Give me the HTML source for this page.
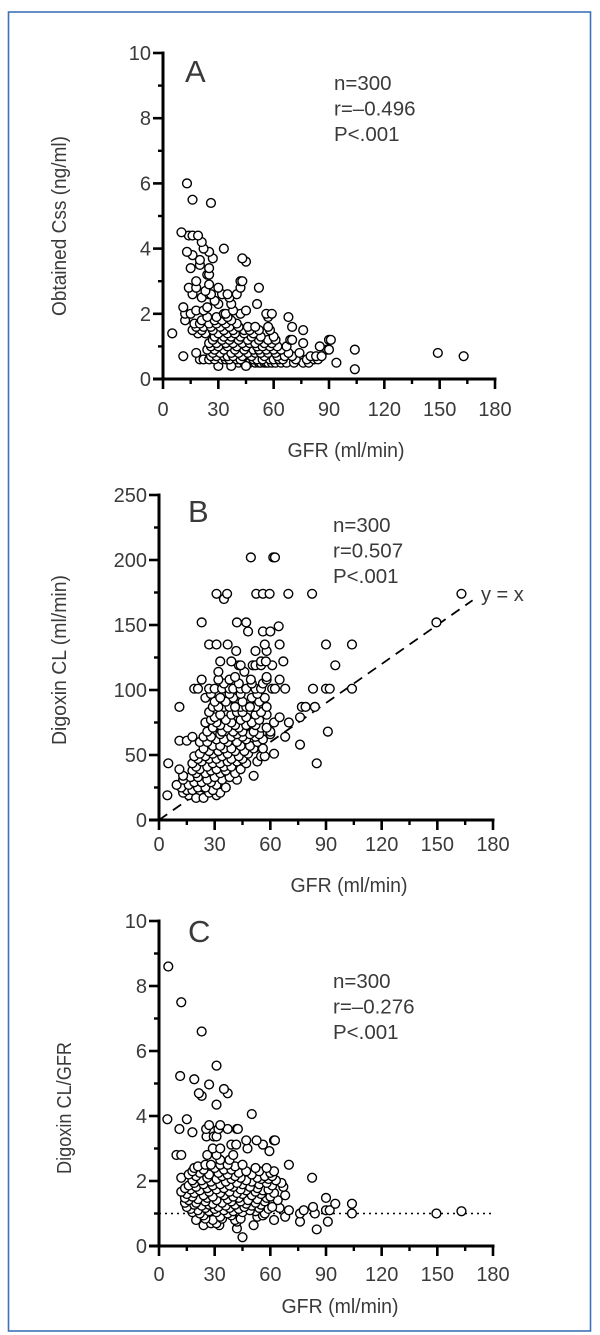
<!DOCTYPE html>
<html lang="en">
<head>
<meta charset="utf-8">
<title>Digoxin scatter plots</title>
<style>
html,body{margin:0;padding:0;background:#fff;width:600px;height:1335px;overflow:hidden}
svg{display:block}
text{font-family:"Liberation Sans",sans-serif;fill:#3a3a3a}
</style>
</head>
<body>
<svg id="figure" xmlns="http://www.w3.org/2000/svg" width="600" height="1335" viewBox="0 0 600 1335">
  <rect x="8.5" y="12" width="582" height="1319" fill="#fff" stroke="#3d72b8" stroke-width="1.6"/>
  <text x="22" y="1345" font-size="14" style="fill:#6f9bd6">Digoxin concentration and CL plotted against GFR and regression</text>
  <g id="panel-a"></g>
  <g id="panel-b"></g>
  <g id="panel-c"></g>
</svg>
<script>
const xTickLabels = [0, 30, 60, 90, 120, 150, 180];
const xMinorTicks = [15, 45, 75, 105, 135, 165];
const yTicksA = [0, 2, 4, 6, 8, 10];
const yMinorA = [1, 3, 5, 7, 9];
const yTicksB = [0, 50, 100, 150, 200, 250];
const yMinorB = [25, 75, 125, 175, 225];
const yTicksC = [0, 2, 4, 6, 8, 10];
const yMinorC = [1, 3, 5, 7, 9];

// Each row: [y value, [GFR values]]
const panelARows = [
  [0.5,[38,41,44,46,47,50,52,53,55,56,57,59,61,64,67,71,76,79]],
  [0.4,[30,37,45]],
  [0.6,[20,22,25,28,32,34,36,40,42,49,51,54,58,60,63,65,72,78,82,84]],
  [0.7,[26,29,33,35,38,43,48,55,62,66,70,80,83,86,11]],
  [0.8,[18,27,31,37,41,46,50,53,57,61,68,74]],
  [0.9,[24,28,33,39,44,49,52,56,60,64,89,90]],
  [1.0,[26,30,35,40,45,51,54,58,62,67,85]],
  [1.1,[25,29,34,38,43,47,50,55,59,76]],
  [1.2,[27,32,36,41,46,52,57,61,69,70,90,91]],
  [1.3,[28,33,37,42,48,53,60]],
  [1.4,[19,23,30,35,39,44,49,5]],
  [1.5,[16,21,27,33,38,44,47,52,58,76]],
  [1.6,[18,22,26,31,36,41,46,50,57,70]],
  [1.7,[17,20,25,29,34,40]],
  [1.8,[12,21,28,32,37]],
  [1.9,[24,29,35,57,68]],
  [2.0,[12,15,33,34,42,56,59]],
  [2.1,[18,22,38,45]],
  [2.2,[11,24]],
  [2.3,[30,37,51]],
  [2.4,[28]],
  [2.5,[21,36]],
  [2.6,[16,25,26,32,35,40]],
  [2.7,[23]],
  [2.8,[14,18,30,42,52]],
  [2.9,[25]],
  [3.0,[18,42,43]],
  [3.2,[24,25]],
  [3.4,[15,25]],
  [3.5,[20]],
  [3.6,[45]],
  [3.65,[20]],
  [3.7,[27,43]],
  [3.8,[16]],
  [3.9,[13,25]],
  [4.0,[22,33]],
  [4.2,[21]],
  [4.4,[14,16,19]],
  [4.5,[10]],
  [5.4,[26]],
  [5.5,[16]],
  [6.0,[13]],
  [0.3,[104]],
  [0.5,[94]],
  [0.7,[163]],
  [0.8,[149]],
  [0.9,[104]]
];

const panelBRows = [
  [19,[16,22,31,4.5]],
  [17,[20,24]],
  [21,[13,27,33]],
  [23,[15,18,29]],
  [25,[12,21,25,36]],
  [27,[9.5,16,31]],
  [29,[19,23,28]],
  [31,[13,26,34,42]],
  [33,[17,21,30,38]],
  [34,[13,51]],
  [36,[20,25,33,41]],
  [38,[18,28,36]],
  [39,[11,22,31,44]],
  [41,[20,26,35,39]],
  [43.6,[5,85,18,29,33,47]],
  [45,[23,37,42,53]],
  [47,[21,27,31,39,45]],
  [49,[19,25,34,43,55,57]],
  [51,[22,29,37,48,62]],
  [53,[27,32,41,46]],
  [55,[24,35,39,51,56]],
  [57,[29,33,44,49]],
  [58,[76]],
  [60,[22,26,37,42,53]],
  [61,[11,15]],
  [62,[31,35,47,56]],
  [64,[24,28,39,45,52,18,68]],
  [66,[33,42,49,54,60]],
  [68,[26,34,40,45,51,60,91]],
  [71,[29,37,43,55,58]],
  [73,[33,41,47,52]],
  [75,[25,31,39,50,62,70]],
  [77,[28,36,44,54]],
  [79,[30,47,65,76]],
  [81,[33,39,52,58]],
  [83,[27,42,45,55]],
  [87,[11,29,35,38,44,47,51,52,58,77,79,84,32,41,49]],
  [91,[30,36,45,54]],
  [94,[25,33,40,50,57]],
  [97,[28,38,44,53]],
  [101,[19,21,27,30,34,38,40,44,47,52,55,61,62.5,68,83,90,92,104]],
  [105,[35,43,50,56]],
  [108,[23,32,38,49.5,58,65]],
  [110,[41,58]],
  [114,[32,46]],
  [119,[43,44,50.5,52,55,61,95]],
  [122,[33,39,55,57.6,67]],
  [130,[41.6,52,58]],
  [135,[27,31,37,57,65,90,104]],
  [145,[48,56,60]],
  [149,[64.5]],
  [152,[23,42,47,149.5]],
  [170,[35]],
  [174,[31,36.7,52.4,56,59.6,69.7,82.5,163]],
  [202,[49.5,61.6,62.5]]
];

const panelCRows = [
  [0.27,[45]],
  [0.51,[85]],
  [0.54,[42]],
  [0.64,[51,32.5,24]],
  [0.7,[28,31]],
  [0.75,[42,91,76]],
  [0.8,[20,29,41,62]],
  [0.84,[25,34,44]],
  [0.9,[33,53,68]],
  [0.94,[24,39,56]],
  [1.0,[22,37,57,76,84,104,149.5]],
  [1.04,[18,31,45]],
  [1.07,[163,27,40,52]],
  [1.1,[21,35,49,70,78,90,92]],
  [1.14,[17,30,43,59]],
  [1.17,[25,38,54,65]],
  [1.2,[15,32,46,61,83]],
  [1.24,[23,36,50]],
  [1.27,[19,27,41,55]],
  [1.3,[29,47,95,104]],
  [1.33,[14,20,34,52]],
  [1.37,[25,39,44,57]],
  [1.41,[16,31,48,64]],
  [1.44,[21,37,53]],
  [1.48,[14,26,43,58,90]],
  [1.52,[18,29,40,60]],
  [1.56,[24,35,50,68]],
  [1.6,[15,45,55]],
  [1.63,[19,33,42,62]],
  [1.67,[12,27,38,52]],
  [1.71,[22,47,56]],
  [1.74,[17,31,44,59]],
  [1.78,[14,26,35,53]],
  [1.82,[20,40,49,67]],
  [1.86,[16,29,38,61]],
  [1.9,[24,33,45,54]],
  [1.94,[19,42,58,66]],
  [1.98,[28,36,50]],
  [2.02,[18,23,47,63]],
  [2.06,[31,39,55,59]],
  [2.1,[12,26,44,53,82.5]],
  [2.15,[20,34,41,57,61]],
  [2.2,[16,27,37,50]],
  [2.25,[22,32,43,60]],
  [2.3,[18,47,54,62]],
  [2.35,[24,35,39]],
  [2.4,[19,30,52,58]],
  [2.45,[21,41]],
  [2.5,[25,28,33,37,45,70]],
  [2.65,[33,38]],
  [2.8,[9.4,12,26,31,40]],
  [2.92,[59.5]],
  [3.0,[29,33,47.7]],
  [3.12,[39,41.6,56]],
  [3.25,[47,52.6,62,62.5]],
  [3.37,[25.6,29.5,31]],
  [3.5,[18]],
  [3.6,[11,32,37,42,42.5,25.4]],
  [3.72,[27,33]],
  [3.9,[15,4.5]],
  [4.06,[50]],
  [4.35,[31]],
  [4.62,[23]],
  [4.7,[21.5,37]],
  [4.83,[35]],
  [4.97,[27]],
  [5.13,[19]],
  [5.23,[11.4]],
  [5.55,[31]],
  [6.6,[23]],
  [7.5,[12]],
  [8.6,[5]]
];

const SVG_NS = "http://www.w3.org/2000/svg";

function scale(d0, d1, r0, r1) {
  return function (v) { return r0 + (v - d0) / (d1 - d0) * (r1 - r0); };
}

function addLine(parent, x1, y1, x2, y2, width, dash) {
  const el = document.createElementNS(SVG_NS, "line");
  el.setAttribute("x1", x1);
  el.setAttribute("y1", y1);
  el.setAttribute("x2", x2);
  el.setAttribute("y2", y2);
  el.setAttribute("stroke", "#000");
  el.setAttribute("stroke-width", width);
  if (dash) el.setAttribute("stroke-dasharray", dash);
  parent.appendChild(el);
  return el;
}

function addText(parent, content, x, y, size, anchor, rotate, length) {
  const el = document.createElementNS(SVG_NS, "text");
  el.textContent = content;
  el.setAttribute("x", x);
  el.setAttribute("y", y);
  el.setAttribute("font-size", size);
  el.setAttribute("text-anchor", anchor);
  if (rotate) el.setAttribute("transform", "rotate(-90 " + x + " " + y + ")");
  if (length) {
    el.setAttribute("textLength", length);
    el.setAttribute("lengthAdjust", "spacingAndGlyphs");
  }
  parent.appendChild(el);
  return el;
}

function drawPanel(cfg) {
  const g = document.getElementById(cfg.id);
  const sx = scale(0, 180, cfg.x0, cfg.x180);
  const sy = scale(0, cfg.yMax, cfg.y0, cfg.yTop);

  cfg.guides(g, sx, sy);

  cfg.rows.forEach(function (row) {
    row[1].forEach(function (gfr) {
      const c = document.createElementNS(SVG_NS, "circle");
      c.setAttribute("cx", sx(gfr));
      c.setAttribute("cy", sy(row[0]));
      c.setAttribute("r", 4.4);
      c.setAttribute("fill", "#fff");
      c.setAttribute("stroke", "#000");
      c.setAttribute("stroke-width", 1.4);
      
      
      g.appendChild(c);
    });
  });

  const yAxis = addLine(g, cfg.x0, cfg.yTop - 1.5, cfg.x0, cfg.y0 + 1.5, 3);
  
  
  const xAxis = addLine(g, cfg.x0 - 10, cfg.y0, cfg.x180 + 1.5, cfg.y0, 3);
  
  

  xTickLabels.forEach(function (v) {
    const t = addLine(g, sx(v), cfg.y0, sx(v), cfg.y0 + 10, 2.6);
    
    
    const l = addText(g, String(v), sx(v), cfg.xLabelY, 20, "middle");
    
    
  });
  xMinorTicks.forEach(function (v) {
    const t = addLine(g, sx(v), cfg.y0, sx(v), cfg.y0 + 5, 2.4);
    
    
  });
  cfg.yTicks.forEach(function (v) {
    const t = addLine(g, cfg.x0 - 10, sy(v), cfg.x0, sy(v), 2.6);
    
    
    const l = addText(g, String(v), cfg.x0 - 12, sy(v) + 7, 20, "end");
    
    
  });
  cfg.yMinor.forEach(function (v) {
    const t = addLine(g, cfg.x0 - 5, sy(v), cfg.x0, sy(v), 2.4);
    
    
  });

  const yTitle = addText(g, cfg.yTitle, cfg.yTitleX, cfg.yTitleY, 20, "middle", true, cfg.yTitleLen);
  
  
  const xTitle = addText(g, "GFR (ml/min)", cfg.xTitleX, cfg.xTitleY, 20, "middle", false, 117);
  
  
  const letter = addText(g, cfg.letter, cfg.letterX, cfg.letterY, 31, "start");
  
  

  cfg.stats.forEach(function (s, i) {
    const st = addText(g, s, cfg.statX, cfg.statY + i * 25.5, 20.5, "start");
    
    
  });
}

drawPanel({
  id: "panel-a", rows: panelARows, yMax: 10, x0: 163, x180: 495, y0: 379, yTop: 53,
  yTicks: yTicksA, yMinor: yMinorA, xLabelY: 416, yTitle: "Obtained Css (ng/ml)",
  yTitleX: 66, yTitleY: 226, yTitleLen: 180, xTitleX: 346, xTitleY: 457,
  letter: "A", letterX: 185, letterY: 82, stats: ["n=300", "r=\u20130.496", "P<.001"], statX: 334, statY: 90,
  guides: function () {}
});

drawPanel({
  id: "panel-b", rows: panelBRows, yMax: 250, x0: 159, x180: 493, y0: 820, yTop: 495,
  yTicks: yTicksB, yMinor: yMinorB, xLabelY: 851, yTitle: "Digoxin CL (ml/min)",
  yTitleX: 66, yTitleY: 660, yTitleLen: 170, xTitleX: 349, xTitleY: 892,
  letter: "B", letterX: 188, letterY: 522, stats: ["n=300", "r=0.507", "P<.001"], statX: 333, statY: 532,
  guides: function (g, sx, sy) {
    const line = addLine(g, sx(0), sy(0), sx(169), sy(169), 1.8, "10 7");
    
    
    const lbl = addText(g, "y = x", 481, 601, 20, "start");
    
    
  }
});

drawPanel({
  id: "panel-c", rows: panelCRows, yMax: 10, x0: 159, x180: 493, y0: 1246, yTop: 921,
  yTicks: yTicksC, yMinor: yMinorC, xLabelY: 1281, yTitle: "Digoxin CL/GFR",
  yTitleX: 71, yTitleY: 1108, yTitleLen: 132, xTitleX: 340, xTitleY: 1313,
  letter: "C", letterX: 188, letterY: 942, stats: ["n=300", "r=\u20130.276", "P<.001"], statX: 333, statY: 988,
  guides: function (g, sx, sy) {
    const line = addLine(g, sx(0), sy(1), sx(180), sy(1), 1.5, "2 4");
    
    
  }
});
</script>
</body>
</html>
